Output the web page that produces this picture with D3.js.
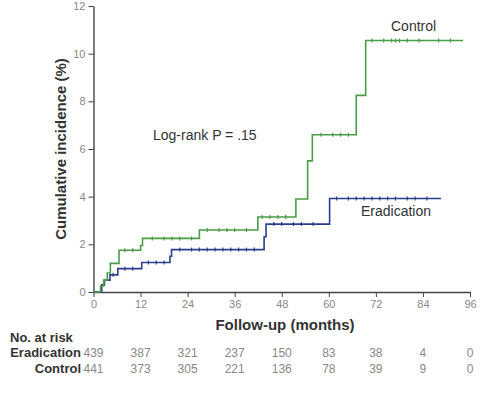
<!DOCTYPE html>
<html>
<head>
<meta charset="utf-8">
<script src="https://cdn.jsdelivr.net/npm/d3@7"></script>
<style>
  body { margin: 0; background: #fff; }
  svg { font-family: "Liberation Sans", Arial, sans-serif; }
  .tick text { fill: #888; font-size: 11px; }
  .tick line, .domain { stroke: #444; }
</style>
</head>
<body>
<div id="chart"></div>
<script>
var svgWidth = 480;
var svgHeight = 401;

// step curves: [month, cumulative incidence %]
var controlSteps = [[0, 0], [1.8, 0.25], [2.6, 0.5], [3.5, 0.8], [4.3, 1.2], [6.5, 1.75], [12, 1.95], [12.5, 2.25],
  [27, 2.6], [41.9, 3.15], [51.6, 3.9], [54.6, 5.5], [55.8, 6.6], [67, 8.25], [69.4, 10.55], [94.2, 10.55]];
var eradicationSteps = [[0, 0], [2.1, 0.3], [2.8, 0.5], [4.2, 0.72], [6.2, 0.98], [12.3, 1.24], [19.5, 1.5], [19.9, 1.78],
  [43.5, 2.32], [44, 2.85], [60.2, 3.92], [88.6, 3.92]];

// censored observations (months)
var controlCensor = [8, 10, 15, 18, 20, 22, 25, 29, 32, 34, 36, 39, 43, 45, 47, 49, 58, 61, 63, 65, 71, 74, 76, 77, 78, 80, 83, 88, 91];
var eradicationCensor = [5, 8, 10, 14, 16, 18, 22, 25, 27, 29, 31, 33, 35, 37, 39, 41, 46, 48, 51, 53, 56, 62, 65, 67, 69, 71, 73, 75, 77, 80, 82, 85];

var xTicks = [0, 12, 24, 36, 48, 60, 72, 84, 96];
var yTicks = [0, 2, 4, 6, 8, 10, 12];

var riskLabels = ["Eradication", "Control"];
var riskEradication = [439, 387, 321, 237, 150, 83, 38, 4, 0];
var riskControl = [441, 373, 305, 221, 136, 78, 39, 9, 0];

var controlColor = "#4a9d47";
var eradicationColor = "#2c3f8e";

var svg = d3.select("#chart")
  .append("svg")
  .attr("width", svgWidth)
  .attr("height", svgHeight);

var xScale = d3.scaleLinear().domain([0, 96]).range([93.5, 470]);
var yScale = d3.scaleLinear().domain([0, 12]).range([292, 6]);

// axes
svg.append("g")
  .attr("transform", "translate(0, 292)")
  .call(d3.axisBottom(xScale).tickValues(xTicks).tickSize(5).tickPadding(3).tickSizeOuter(0));

svg.append("g")
  .attr("transform", "translate(93.5, 0)")
  .call(d3.axisLeft(yScale).tickValues(yTicks).tickSize(5).tickPadding(3).tickSizeOuter(0));

svg.selectAll(".domain").attr("stroke-width", 1.4);

// curves
var line = d3.line()
  .x(d => xScale(d[0]))
  .y(d => yScale(d[1]))
  .curve(d3.curveStepAfter);

function valueAt(steps, t) {
  var v = 0;
  steps.forEach(function(s) { if (s[0] <= t) v = s[1]; });
  return v;
}

function drawCurve(steps, censor, color) {
  svg.append("path")
    .datum(steps)
    .attr("fill", "none")
    .attr("stroke", color)
    .attr("stroke-width", 1.6)
    .attr("d", line);

  svg.selectAll(null)
    .data(censor)
    .enter()
    .append("line")
    .attr("x1", d => xScale(d))
    .attr("x2", d => xScale(d))
    .attr("y1", d => yScale(valueAt(steps, d)) - 2)
    .attr("y2", d => yScale(valueAt(steps, d)) + 2)
    .attr("stroke", color)
    .attr("stroke-width", 1.2);
}

drawCurve(eradicationSteps, eradicationCensor, eradicationColor);
drawCurve(controlSteps, controlCensor, controlColor);

// labels
svg.append("text")
  .attr("transform", "translate(66, 149) rotate(-90)")
  .attr("text-anchor", "middle")
  .attr("font-size", "15px")
  .attr("font-weight", "bold")
  .attr("fill", "#333")
  .text("Cumulative incidence (%)");

svg.append("text")
  .attr("x", 285)
  .attr("y", 330)
  .attr("text-anchor", "middle")
  .attr("font-size", "15px")
  .attr("font-weight", "bold")
  .attr("fill", "#333")
  .text("Follow-up (months)");

svg.append("text")
  .attr("x", 153)
  .attr("y", 140)
  .attr("font-size", "14px")
  .attr("fill", "#333")
  .text("Log-rank P = .15");

svg.append("text")
  .attr("x", 391)
  .attr("y", 31)
  .attr("font-size", "14px")
  .attr("fill", "#333")
  .text("Control");

svg.append("text")
  .attr("x", 361)
  .attr("y", 216)
  .attr("font-size", "14px")
  .attr("fill", "#333")
  .text("Eradication");

// number at risk table
svg.append("text")
  .attr("x", 10)
  .attr("y", 342)
  .attr("font-size", "13px")
  .attr("font-weight", "bold")
  .attr("fill", "#333")
  .text("No. at risk");

[riskEradication, riskControl].forEach(function(row, i) {
  var y = 357 + i * 16;
  svg.append("text")
    .attr("x", 81)
    .attr("y", y)
    .attr("text-anchor", "end")
    .attr("font-size", "13px")
    .attr("font-weight", "bold")
    .attr("fill", "#333")
    .text(riskLabels[i]);

  svg.selectAll(null)
    .data(row)
    .enter()
    .append("text")
    .attr("x", (d, j) => xScale(xTicks[j]))
    .attr("y", y)
    .attr("text-anchor", "middle")
    .attr("font-size", "12px")
    .attr("fill", "#888")
    .text(d => d);
});
</script>
</body>
</html>
